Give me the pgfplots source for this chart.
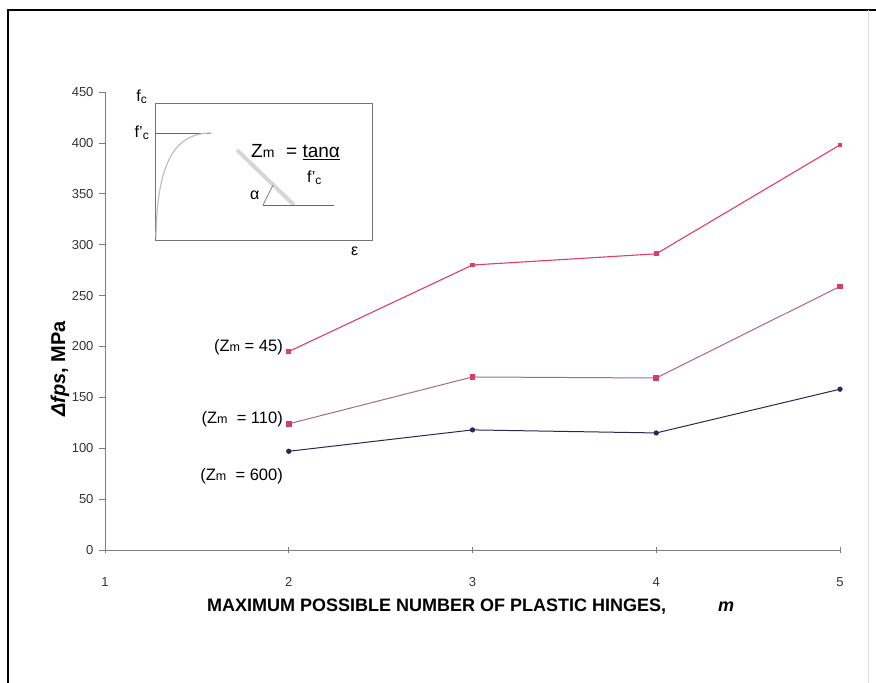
\documentclass[border=0pt]{standalone}
\usepackage{pgfplots}
\pgfplotsset{compat=1.18}
\usepackage{fontspec}
\setmainfont{Liberation Sans}
\definecolor{zA}{RGB}{222,62,105}
\definecolor{zB}{RGB}{170,105,130}
\definecolor{zBm}{RGB}{215,60,100}
\definecolor{zC}{RGB}{40,40,80}
\definecolor{axgray}{RGB}{125,125,125}
\newcommand{\fs}[1]{\fontsize{#1}{#1}\selectfont}
\begin{document}
\begin{tikzpicture}[x=1pt,y=1pt]
\path[use as bounding box] (0,0) rectangle (876,683);
% frame
\draw[line width=2.5pt,black] (8,0) -- (8,673) -- (876,673);
\draw[line width=0.6pt,black!12] (868,673) -- (868,0);
\begin{axis}[
  at={(105pt,133pt)}, anchor=origin,
  scale only axis, width=735pt, height=458pt,
  xmin=1, xmax=5, ymin=0, ymax=450,
  axis x line*=bottom, axis y line*=left,
  axis line style={axgray, line width=0.8pt, -},
  xtick={1,2,3,4,5}, ytick={0,50,...,450},
  tick style={axgray, line width=0.6pt},
  major tick length=6pt,
  xtick align=center, ytick align=outside,
  tick label style={font=\fs{13}, text=black!80},
  /pgf/number format/assume math mode=true,
  xticklabel style={yshift=-21pt},
  yticklabel style={xshift=-2pt},
  clip=false,
]
\addplot[zA, line width=1.1pt, mark=square*, mark size=1.8pt, mark options={fill=zA, draw=zA}]
  coordinates {(2,195) (3,280) (4,291) (5,398)};
\addplot[zB, line width=1.0pt, mark=square*, mark size=2.3pt, mark options={fill=zBm, draw=zBm}]
  coordinates {(2,124) (3,170) (4,169) (5,259)};
\addplot[zC, line width=1.0pt, mark=*, mark size=2.1pt, mark options={fill=zC, draw=zC}]
  coordinates {(2,97) (3,118) (4,115) (5,158)};
\end{axis}
% axis labels
\node[font=\bfseries\fs{18}, anchor=base west, inner sep=0pt] at (207,71) {MAXIMUM POSSIBLE NUMBER OF PLASTIC HINGES,};
\node[font=\bfseries\itshape\fs{18}, anchor=base west, inner sep=0pt] at (718,71) {m};
\node[font=\bfseries\fs{20}, rotate=90] at (60,314) {\textit{Δfps}, MPa};
% annotations
\node[font=\fs{16.5}, anchor=base east, inner sep=0pt] at (283,331) {(Z{\fs{12.5}m} = 45)};
\node[font=\fs{16.5}, anchor=base east, inner sep=0pt] at (283,259) {(Z{\fs{12.5}m}\ \ = 110)};
\node[font=\fs{16.5}, anchor=base east, inner sep=0pt] at (283,202) {(Z{\fs{12.5}m}\ \ = 600)};
% inset
\draw[black!55, line width=0.8pt] (155,580) rectangle (372,443);
\node[font=\fs{16}, anchor=base east, inner sep=0pt] at (147,581) {f\raisebox{-2pt}{\fs{12}c}};
\node[font=\fs{16}, anchor=base east, inner sep=0pt] at (149,545) {f'\raisebox{-2pt}{\fs{12}c}};
\draw[black!60, line width=0.7pt] (155,550) -- (211,550);
\draw[black!25, line width=1.2pt] (156,446) .. controls (157,515) and (172,550) .. (211,550);
\draw[black!16, line width=4pt] (237,533) -- (294,478);
\draw[black!60, line width=0.7pt] (263,478) -- (334,478);
\draw[black!50, line width=0.7pt] (263,478) -- (273,498);
\node[font=\fs{16}, anchor=base west, inner sep=0pt] at (250,483) {α};
\node[font=\fs{19}, anchor=base west, inner sep=0pt] at (251,525) {Z{\fs{14}m}};
\node[font=\fs{19}, anchor=base west, inner sep=0pt] at (286,525) {= \underline{tanα}};
\node[font=\fs{16}, anchor=base west, inner sep=0pt] at (307,500) {f'\raisebox{-2pt}{\fs{12}c}};
\node[font=\fs{16}, anchor=base west, inner sep=0pt] at (351,427) {ε};
\end{tikzpicture}
\end{document}
